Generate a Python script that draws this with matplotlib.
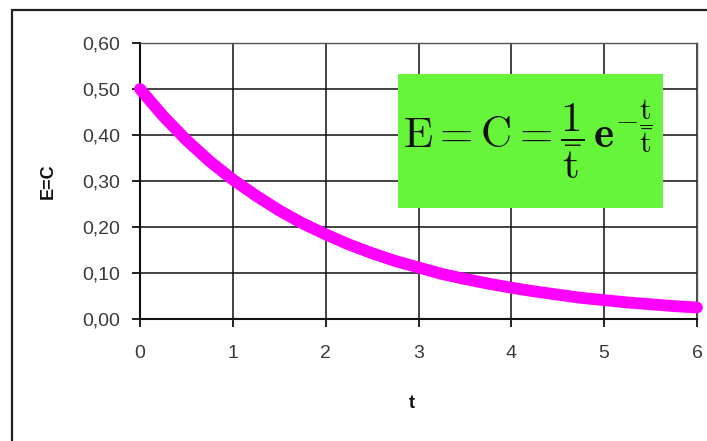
import matplotlib
matplotlib.use("Agg")
import matplotlib.pyplot as plt
from matplotlib.patches import Rectangle

# Residence time distribution values E(t) = C(t)
t_values = [0.0, 0.25, 0.5, 0.75, 1.0, 1.25, 1.5, 1.75, 2.0, 2.25, 2.5, 2.75,
            3.0, 3.25, 3.5, 3.75, 4.0, 4.25, 4.5, 4.75, 5.0, 5.25, 5.5, 5.75, 6.0]
e_values = [0.500, 0.441, 0.389, 0.343, 0.303, 0.268, 0.236, 0.208, 0.184,
            0.162, 0.143, 0.126, 0.112, 0.098, 0.087, 0.077, 0.068, 0.060,
            0.053, 0.046, 0.041, 0.036, 0.032, 0.028, 0.025]
x_ticks = [0, 1, 2, 3, 4, 5, 6]
y_ticks = [0.0, 0.1, 0.2, 0.3, 0.4, 0.5, 0.6]
y_tick_labels = ["0,00", "0,10", "0,20", "0,30", "0,40", "0,50", "0,60"]

W, H = 707, 441
plt.rcParams["mathtext.fontset"] = "cm"
fig = plt.figure(figsize=(W / 100, H / 100), dpi=100)
fig.patch.set_facecolor("white")

# outer chart frame (open on the right and bottom)
fig.patches.append(Rectangle((12 / W, -0.1), 1.2, 1 - 10 / H + 0.1,
                             transform=fig.transFigure, fill=False,
                             edgecolor="#222222", linewidth=1.6, zorder=0))

ax = fig.add_axes([140 / W, 1 - 319 / H, 557 / W, 276 / H])
ax.set_xlim(0, 6)
ax.set_ylim(0, 0.6)
ax.set_xticks(x_ticks)
ax.set_yticks(y_ticks)
ax.set_yticklabels(y_tick_labels)
ax.grid(True, color="#111111", linewidth=1.1)
ax.set_axisbelow(True)
for side in ["top", "right"]:
    ax.spines[side].set_color("#555555")
    ax.spines[side].set_linewidth(1.0)
for side in ["left", "bottom"]:
    ax.spines[side].set_color("#111111")
    ax.spines[side].set_linewidth(1.5)

ax.tick_params(axis="both", direction="out", length=6, width=1.3,
               color="#111111", labelcolor="#3a3a3a", labelsize=14)
ax.tick_params(axis="y", pad=8)
ax.tick_params(axis="x", pad=13)
for lab in ax.get_xticklabels() + ax.get_yticklabels():
    lab.set_fontfamily("Liberation Sans")

ax.plot(t_values, e_values, color="#FF00FF", linewidth=8.5, solid_capstyle="round",
        zorder=3, clip_on=False)

# formula box
ax.add_patch(Rectangle(((398 - 140) / 557, (319 - 208) / 276), 265 / 557, 134 / 276,
                       transform=ax.transAxes, facecolor="#66F53A",
                       edgecolor="none", zorder=4))
ax.text(((528 - 140) / 557), (319 - 140) / 276,
        r"$\mathrm{E}=\mathrm{C}=\dfrac{1}{\bar{\mathrm{t}}}\,\mathbf{e}^{-\dfrac{\mathrm{t}}{\bar{\mathrm{t}}}}$",
        transform=ax.transAxes, ha="center", va="center", fontsize=31,
        color="#111111", zorder=5)

fig.text(412 / W, 1 - 404 / H, "t", ha="center", va="center",
         fontsize=13, fontweight="bold", family="Liberation Sans", color="#111111")
fig.text(48 / W, 1 - 181 / H, "E=C", ha="center", va="center", rotation=90,
         fontsize=13, fontweight="bold", family="Liberation Sans", color="#111111")

fig.savefig("out.png", dpi=100, facecolor="white")
